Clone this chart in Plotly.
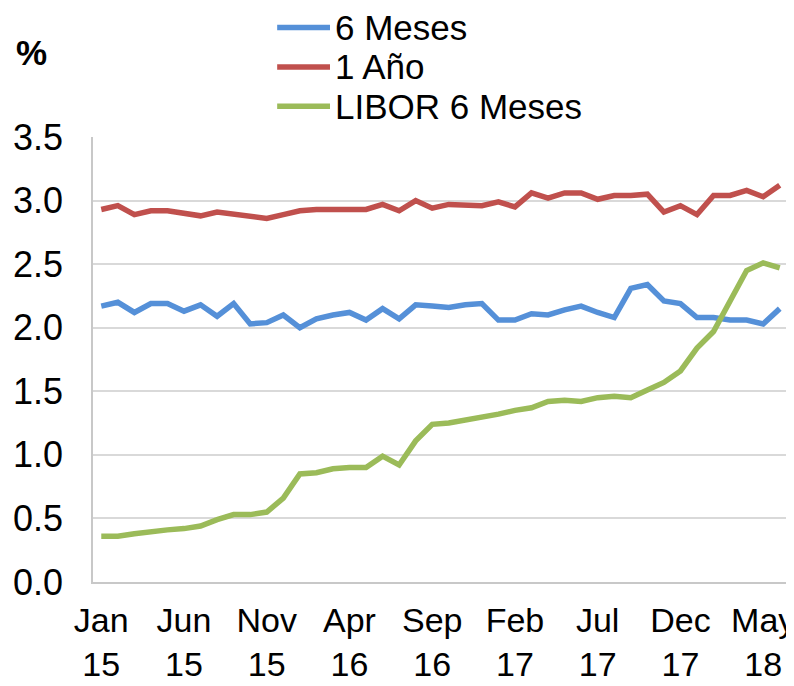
import pandas as pd
import plotly.graph_objects as go

# meses jan/2015 a jun/2018
meses = pd.date_range("2015-01-01", periods=42, freq="MS").strftime("%b %y").tolist()
rotulos_x = ["Jan<br>15", "Jun<br>15", "Nov<br>15", "Apr<br>16", "Sep<br>16",
             "Feb<br>17", "Jul<br>17", "Dec<br>17", "May<br>18"]

seis_meses = [2.17, 2.20, 2.12, 2.19, 2.19, 2.13, 2.18, 2.09, 2.19, 2.03, 2.04,
              2.10, 2.00, 2.07, 2.10, 2.12, 2.06, 2.15, 2.07, 2.18, 2.17, 2.16,
              2.18, 2.19, 2.06, 2.06, 2.11, 2.10, 2.14, 2.17, 2.12, 2.08, 2.31,
              2.34, 2.21, 2.19, 2.08, 2.08, 2.06, 2.06, 2.03, 2.15]
un_ano = [2.93, 2.96, 2.89, 2.92, 2.92, 2.90, 2.88, 2.91, 2.89, 2.88, 2.86,
          2.89, 2.92, 2.93, 2.93, 2.93, 2.93, 2.97, 2.92, 3.00, 2.94, 2.97,
          2.96, 2.96, 2.99, 2.95, 3.06, 3.02, 3.06, 3.06, 3.01, 3.04, 3.04,
          3.05, 2.91, 2.96, 2.89, 3.04, 3.04, 3.08, 3.03, 3.12]
libor = [0.36, 0.36, 0.38, 0.40, 0.41, 0.42, 0.44, 0.49, 0.53, 0.53, 0.55,
         0.66, 0.85, 0.86, 0.89, 0.90, 0.90, 0.99, 0.92, 1.11, 1.24, 1.25,
         1.27, 1.29, 1.32, 1.35, 1.37, 1.42, 1.43, 1.42, 1.45, 1.46, 1.45,
         1.51, 1.57, 1.66, 1.84, 1.97, 2.22, 2.45, 2.51, 2.47]

series = [("6 Meses", seis_meses, "#5590D8"),
          ("1 Año", un_ano, "#C0504D"),
          ("LIBOR 6 Meses", libor, "#9BBB59")]

FONTE = "Liberation Sans, Arial, sans-serif"

fig = go.Figure()
for nome, valores, cor in series:
    fig.add_trace(go.Scatter(x=meses, y=valores, name=nome, mode="lines",
                             line=dict(color=cor, width=5.5), showlegend=False))

# legenda feita a mao (linha + texto)
for i, (nome, valores, cor) in enumerate(series):
    y_leg = 1.246 - i * 0.0885
    fig.add_shape(type="line", xref="paper", yref="paper", x0=0.265, x1=0.341,
                  y0=y_leg, y1=y_leg, line=dict(color=cor, width=5.5))
    fig.add_annotation(xref="paper", yref="paper", x=0.346, y=y_leg, text=nome,
                       showarrow=False, xanchor="left", yanchor="middle",
                       font=dict(family=FONTE, size=35, color="black"))

fig.add_annotation(xref="paper", yref="paper", x=-0.088, y=1.19, text="<b>%</b>",
                   showarrow=False, xanchor="center", yanchor="middle",
                   font=dict(family=FONTE, size=35, color="black"))

# a pagina tem 8px de margem no body, por isso 786x678
fig.update_layout(
    width=786, height=678,
    margin=dict(l=85, r=6, t=129, b=104, autoexpand=False),
    paper_bgcolor="white", plot_bgcolor="white",
    font=dict(family=FONTE, size=36, color="black"),
)
fig.update_xaxes(type="category", range=[-0.5, 41.5], tickmode="array",
                 tickvals=meses[::5], ticktext=rotulos_x, showgrid=False,
                 showline=True, linecolor="#c8c8c8", linewidth=1.5,
                 ticks="", ticklabelstandoff=7, automargin=False,
                 tickfont=dict(size=34))
fig.update_yaxes(range=[0, 3.5], dtick=0.5, tickformat=".1f", showgrid=True,
                 gridcolor="#d9d9d9", gridwidth=1.5, zeroline=False,
                 showline=True, linecolor="#c8c8c8", linewidth=1.5,
                 ticks="", ticklabelstandoff=21, automargin=False)

fig.write_html("out.html")
